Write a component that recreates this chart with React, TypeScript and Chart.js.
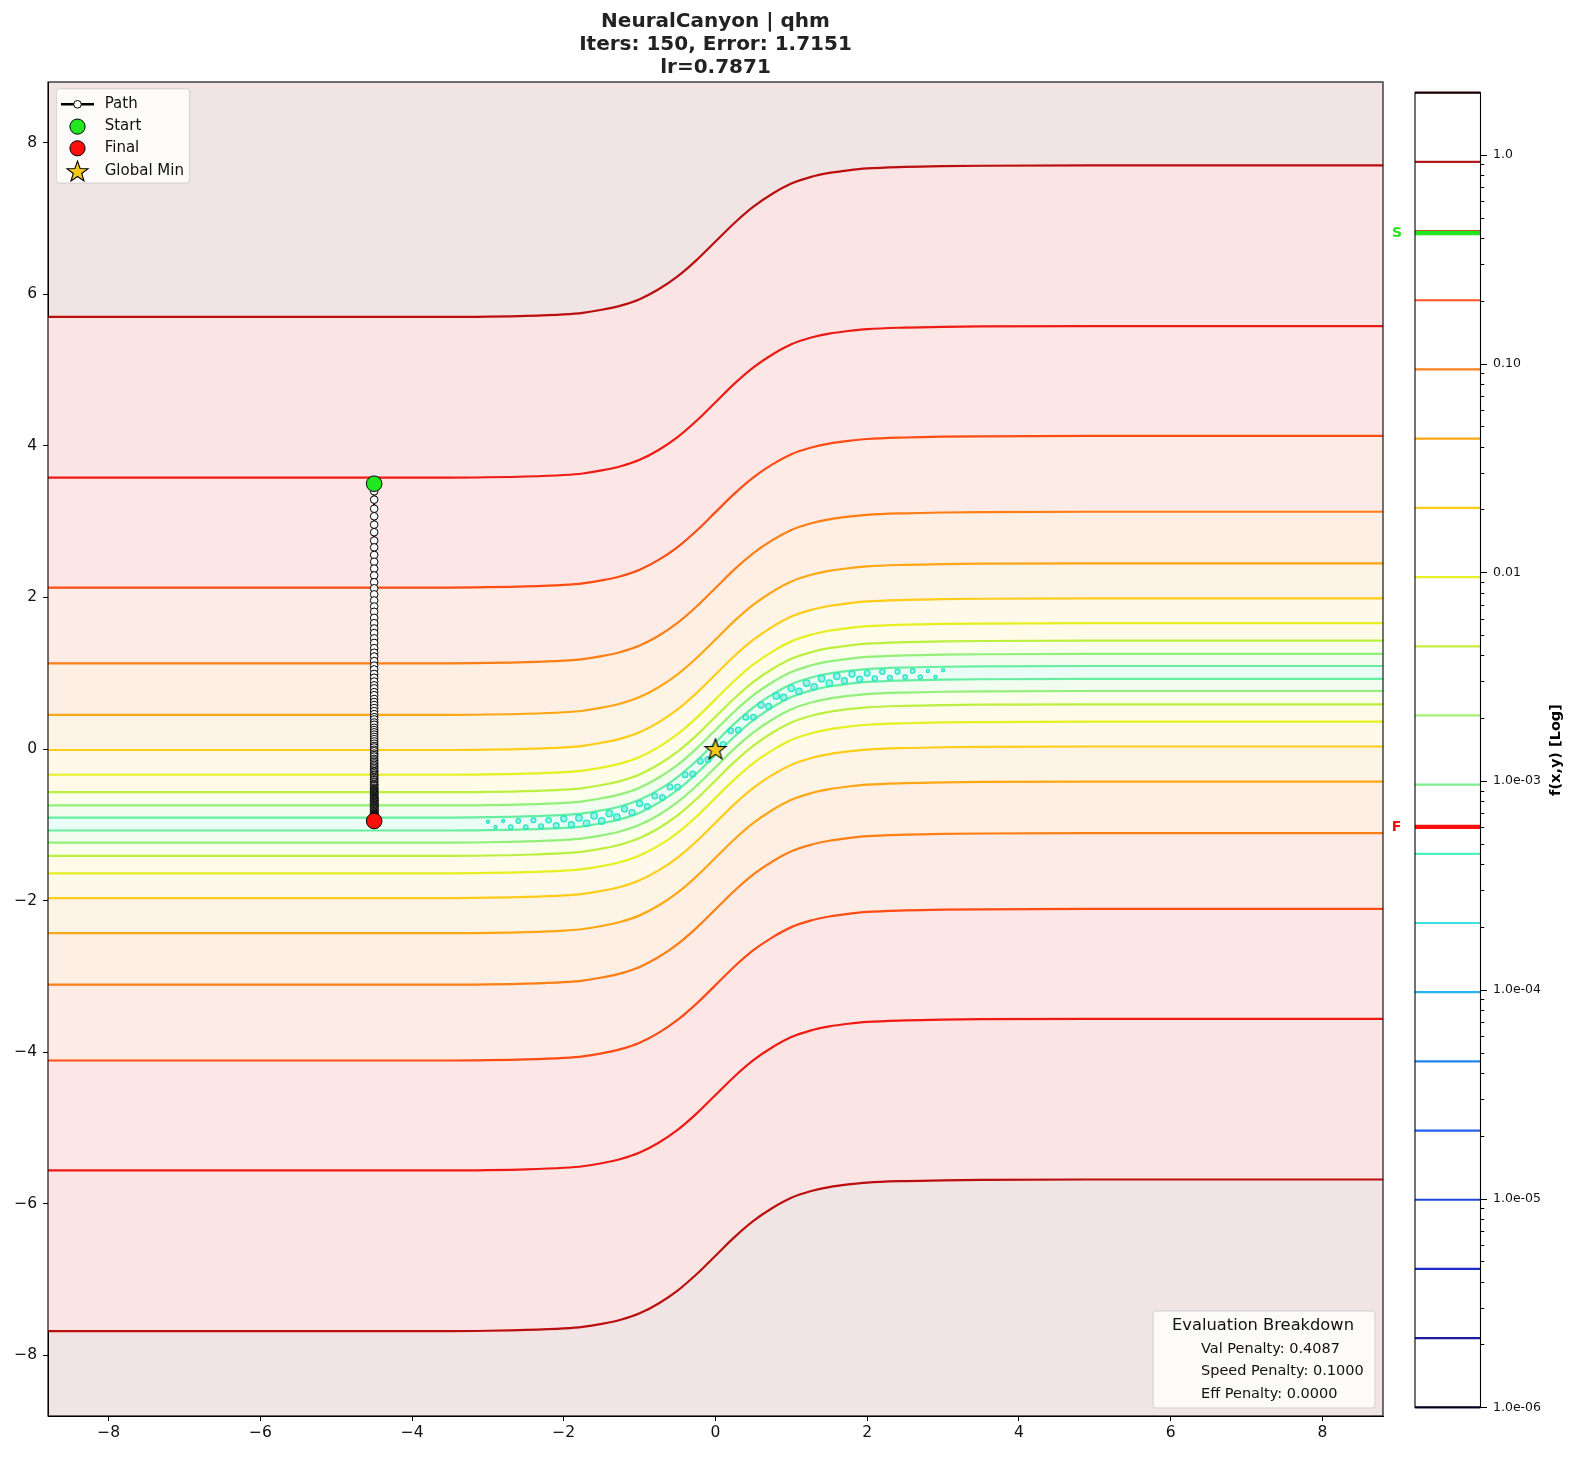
import React, { useEffect, useRef } from 'react';
import { Chart, registerables } from 'chart.js';
Chart.register(...registerables);

// ---------- data ----------
const TITLE_LINES = ['NeuralCanyon | qhm', 'Iters: 150, Error: 1.7151', 'lr=0.7871'];
const X_TICKS = [-8, -6, -4, -2, 0, 2, 4, 6, 8];
const Y_TICKS = [-8, -6, -4, -2, 0, 2, 4, 6, 8];
const AXIS_MIN = -8.8;
const AXIS_MAX = 8.8;

// valley centre line (read at sample x positions)
const valleyX = [-8.8, -5, -3.5, -3, -2.5, -2, -1.75, -1.5, -1.25, -1, -0.75, -0.5, -0.25, 0, 0.25, 0.5, 0.75, 1, 1.25, 1.5, 1.75, 2, 2.5, 3, 3.5, 5, 8.8];
const valleyY = [-0.99, -0.99, -0.99, -0.985, -0.975, -0.955, -0.935, -0.895, -0.84, -0.755, -0.625, -0.455, -0.24, 0.005, 0.25, 0.465, 0.635, 0.77, 0.855, 0.91, 0.945, 0.97, 0.99, 1.0, 1.005, 1.01, 1.01];

// vertical distance of each contour from the valley centre (outer -> inner)
const contourOffsets = [6.69, 4.57, 3.12, 2.12, 1.44, 0.977, 0.65, 0.42, 0.245, 0.085];
const contourColors = ['#bb0e0e', '#ee1a14', '#ff4c14', '#ff7e14', '#ffa614', '#ffcc1a', '#e6f020', '#bcf040', '#92f07a', '#66eea0'];
const outerBandColor = '#f1e4e4';
const bandColors = ['#fae4e4', '#fde7e6', '#fdebe5', '#feefe5', '#fef4e6', '#fef9e8', '#fefce9', '#fafeea', '#f2fdf0', '#eafcf6'];

// small closed contours (islands) along the valley floor
const islandX = [-3.0, -2.9, -2.8, -2.7, -2.6, -2.5, -2.4, -2.3, -2.2, -2.1, -2.0, -1.9, -1.8, -1.7, -1.6, -1.5, -1.4, -1.3, -1.2, -1.1, -1.0, -0.9, -0.8, -0.7, -0.6, -0.5, -0.4, -0.3, -0.2, -0.1, 0.0, 0.1, 0.2, 0.3, 0.4, 0.5, 0.6, 0.7, 0.8, 0.9, 1.0, 1.1, 1.2, 1.3, 1.4, 1.5, 1.6, 1.7, 1.8, 1.9, 2.0, 2.1, 2.2, 2.3, 2.4, 2.5, 2.6, 2.7, 2.8, 2.9, 3.0];
const islandY = [-0.96, -1.03, -0.95, -1.03, -0.95, -1.03, -0.94, -1.02, -0.94, -1.01, -0.92, -1.0, -0.91, -0.98, -0.88, -0.95, -0.85, -0.9, -0.79, -0.84, -0.72, -0.76, -0.62, -0.64, -0.5, -0.5, -0.34, -0.33, -0.16, -0.14, 0.04, 0.06, 0.24, 0.25, 0.42, 0.42, 0.58, 0.56, 0.7, 0.68, 0.8, 0.76, 0.87, 0.82, 0.93, 0.87, 0.96, 0.9, 0.99, 0.92, 1.0, 0.93, 1.02, 0.94, 1.02, 0.95, 1.03, 0.95, 1.03, 0.95, 1.04];
const islandR = [1.5, 1.5, 1.5, 2.2, 2.2, 2.2, 2.4, 2.4, 2.6, 2.8, 3.0, 3.0, 3.2, 3.2, 3.2, 3.2, 3.2, 3.2, 3.0, 3.0, 3.0, 2.8, 2.8, 2.8, 2.8, 2.8, 2.8, 2.8, 2.8, 2.8, 2.8, 2.8, 2.8, 2.8, 2.8, 2.8, 3.0, 3.0, 3.2, 3.2, 3.2, 3.2, 3.2, 3.2, 3.2, 3.2, 3.2, 3.0, 3.0, 3.0, 2.8, 2.6, 2.6, 2.4, 2.4, 2.2, 2.2, 2.0, 1.6, 1.5, 1.5];

// optimiser path (x is constant)
const PATH_X = -4.5;
const pathY = [
  3.50, 3.40, 3.29, 3.17, 3.07, 2.96, 2.86, 2.75, 2.66, 2.56,
  2.47, 2.38, 2.29, 2.20, 2.12, 2.04, 1.96, 1.88, 1.81, 1.73,
  1.66, 1.59, 1.53, 1.46, 1.40, 1.33, 1.27, 1.22, 1.16, 1.10,
  1.05, 0.99, 0.94, 0.89, 0.84, 0.80, 0.75, 0.71, 0.66, 0.62,
  0.58, 0.54, 0.50, 0.46, 0.42, 0.39, 0.35, 0.32, 0.28, 0.25,
  0.22, 0.19, 0.16, 0.13, 0.10, 0.07, 0.04, 0.02, -0.01, -0.03,
  -0.06, -0.08, -0.10, -0.13, -0.15, -0.17, -0.19, -0.21, -0.23, -0.25,
  -0.27, -0.29, -0.30, -0.32, -0.34, -0.35, -0.37, -0.38, -0.40, -0.41,
  -0.43, -0.44, -0.46, -0.47, -0.48, -0.49, -0.51, -0.52, -0.53, -0.54,
  -0.55, -0.56, -0.57, -0.58, -0.59, -0.60, -0.61, -0.62, -0.63, -0.64,
  -0.645, -0.65, -0.66, -0.66, -0.67, -0.68, -0.68, -0.69, -0.70, -0.70,
  -0.71, -0.72, -0.72, -0.73, -0.74, -0.74, -0.75, -0.76, -0.76, -0.77,
  -0.78, -0.78, -0.79, -0.80, -0.80, -0.81, -0.82, -0.82, -0.83, -0.84,
  -0.84, -0.85, -0.86, -0.86, -0.87, -0.88, -0.88, -0.89, -0.89, -0.90,
  -0.90, -0.91, -0.91, -0.92, -0.92, -0.93, -0.93, -0.94, -0.94, -0.95,
  -0.95,
];
const startPoint = { x: -4.5, y: 3.5 };
const finalPoint = { x: -4.5, y: -0.95 };
const globalMin = { x: 0, y: 0 };

const LEGEND_LABELS = ['Path', 'Start', 'Final', 'Global Min'];
const EVAL_TITLE = 'Evaluation Breakdown';
const EVAL_LINES = ['Val Penalty: 0.4087', 'Speed Penalty: 0.1000', 'Eff Penalty: 0.0000'];

// colour bar
const CB_MIN = 1e-6;
const CB_MAX = 1.984;
const cbLevels = [1e-6, 2.145e-6, 4.6e-6, 9.87e-6, 2.117e-5, 4.54e-5, 9.74e-5, 2.089e-4, 4.48e-4, 9.62e-4, 2.063e-3, 4.42e-3, 9.49e-3, 2.036e-2, 4.37e-2, 9.37e-2, 0.201, 0.431, 0.925, 1.984];
const cbColors = ['#121250', '#1a1aa0', '#1c2cc8', '#1e44e0', '#2062ee', '#2084f0', '#28b4f0', '#38e2e0', '#50f0c0', '#80ee90', '#a4f070', '#c6f040', '#e8f028', '#ffcc1e', '#ffa614', '#ff8020', '#ff5222', '#e82a1c', '#b41c1c', '#3a0808'];
const cbTickValues = [1e-6, 1e-5, 1e-4, 1e-3, 0.01, 0.1, 1];
const cbTickLabels = ['1.0e-06', '1.0e-05', '1.0e-04', '1.0e-03', '0.01', '0.10', '1.0'];
const START_VALUE = 0.422;
const FINAL_VALUE = 6.03e-4;
const CB_LABEL = 'f(x,y) [Log]';

const FONT = 'DejaVu Sans';
const START_COLOR = '#22e622';
const FINAL_COLOR = '#ff0d0d';
const STAR_COLOR = '#f5c81c';

function starPath(ctx: CanvasRenderingContext2D, cx: number, cy: number, R: number, r: number) {
  ctx.beginPath();
  for (let k = 0; k < 10; k++) {
    const a = -Math.PI / 2 + (k * Math.PI) / 5;
    const rad = k % 2 === 0 ? R : r;
    const px = cx + rad * Math.cos(a);
    const py = cy + rad * Math.sin(a);
    if (k === 0) ctx.moveTo(px, py);
    else ctx.lineTo(px, py);
  }
  ctx.closePath();
}

function makeStarImage(): HTMLCanvasElement {
  const c = document.createElement('canvas');
  c.width = 26;
  c.height = 26;
  const ctx = c.getContext('2d')!;
  starPath(ctx, 13, 14, 11, 4.4);
  ctx.fillStyle = STAR_COLOR;
  ctx.fill();
  ctx.lineWidth = 1.1;
  ctx.strokeStyle = '#000';
  ctx.lineJoin = 'miter';
  ctx.stroke();
  return c;
}

const fmtTick = (v: number) => (v < 0 ? '\u2212' + Math.abs(v) : String(v));

export default function App() {
  const mainRef = useRef<HTMLCanvasElement>(null);
  const cbRef = useRef<HTMLCanvasElement>(null);

  useEffect(() => {
    Chart.defaults.font.family = FONT;
    const starImg = makeStarImage();

    // ----- contour lines + bands -----
    const lineOffsets = [...contourOffsets, ...contourOffsets.slice().reverse().map((d) => -d)];
    const contourDatasets: any[] = lineOffsets.map((off, i) => {
      const colorIdx = i < 10 ? i : 19 - i;
      const bandIdx = i < 10 ? i : 18 - i;
      return {
        type: 'line',
        data: valleyX.map((x, j) => ({ x, y: valleyY[j] + off })),
        borderColor: contourColors[colorIdx],
        borderWidth: 2.2,
        pointRadius: 0,
        cubicInterpolationMode: 'monotone',
        fill: i < 19 ? '+1' : false,
        backgroundColor: i < 19 ? bandColors[bandIdx] : 'rgba(0,0,0,0)',
        order: 10,
      };
    });

    const islandDataset = {
      type: 'line',
      data: islandX.map((x, i) => ({ x, y: islandY[i] })),
      showLine: false,
      pointRadius: islandR,
      pointBackgroundColor: 'rgba(60,232,205,0.45)',
      pointBorderColor: '#30e4c8',
      pointBorderWidth: 1.4,
      fill: false,
      order: 6,
    };

    const pathDataset = {
      type: 'line',
      data: pathY.map((y) => ({ x: PATH_X, y })),
      borderColor: '#000',
      borderWidth: 2.2,
      pointRadius: 3.8,
      pointBackgroundColor: '#fff',
      pointBorderColor: '#000',
      pointBorderWidth: 1,
      tension: 0,
      fill: false,
      order: 4,
    };

    const startDataset = {
      type: 'line',
      data: [startPoint],
      showLine: false,
      pointRadius: 7.8,
      pointBackgroundColor: START_COLOR,
      pointBorderColor: '#000',
      pointBorderWidth: 1,
      fill: false,
      order: 3,
    };
    const finalDataset = {
      type: 'line',
      data: [finalPoint],
      showLine: false,
      pointRadius: 7.8,
      pointBackgroundColor: FINAL_COLOR,
      pointBorderColor: '#000',
      pointBorderWidth: 1,
      fill: false,
      order: 2,
    };
    const starDataset = {
      type: 'line',
      data: [globalMin],
      showLine: false,
      pointStyle: starImg,
      pointRadius: 11,
      fill: false,
      order: 1,
    };

    const decorPlugin = {
      id: 'decor',
      beforeDraw(chart: any) {
        const { ctx, chartArea: a } = chart;
        ctx.save();
        ctx.fillStyle = outerBandColor;
        ctx.fillRect(a.left, a.top, a.right - a.left, a.bottom - a.top);
        ctx.restore();
      },
      afterDraw(chart: any) {
        const { ctx, chartArea: a } = chart;
        ctx.save();
        // frame
        ctx.strokeStyle = '#000';
        ctx.lineWidth = 1.1;
        ctx.strokeRect(a.left, a.top, a.right - a.left, a.bottom - a.top);

        // title
        ctx.fillStyle = '#222';
        ctx.font = `bold 20px "${FONT}"`;
        ctx.textAlign = 'center';
        ctx.textBaseline = 'middle';
        const cx = (a.left + a.right) / 2;
        TITLE_LINES.forEach((t, i) => ctx.fillText(t, cx, 22 + i * 22.7));

        // legend
        const lx = a.left + 8.3;
        const ly = a.top + 6.8;
        ctx.beginPath();
        (ctx as any).roundRect(lx, ly, 133.4, 94.3, 3);
        ctx.fillStyle = 'rgba(255,255,255,0.82)';
        ctx.fill();
        ctx.strokeStyle = '#cfcfcf';
        ctx.lineWidth = 1;
        ctx.stroke();
        const symX = lx + 21.2;
        const rows = [ly + 15.5, ly + 37.8, ly + 59.5, ly + 82.3];
        // path symbol
        ctx.beginPath();
        ctx.moveTo(lx + 4.7, rows[0]);
        ctx.lineTo(lx + 37.7, rows[0]);
        ctx.strokeStyle = '#000';
        ctx.lineWidth = 2.6;
        ctx.stroke();
        ctx.beginPath();
        ctx.arc(symX, rows[0], 3.8, 0, Math.PI * 2);
        ctx.fillStyle = '#fff';
        ctx.fill();
        ctx.lineWidth = 1;
        ctx.stroke();
        // start / final
        [[rows[1], START_COLOR], [rows[2], FINAL_COLOR]].forEach(([yy, col]) => {
          ctx.beginPath();
          ctx.arc(symX, yy as number, 7.6, 0, Math.PI * 2);
          ctx.fillStyle = col as string;
          ctx.fill();
          ctx.strokeStyle = '#000';
          ctx.lineWidth = 1;
          ctx.stroke();
        });
        // star
        starPath(ctx, symX, rows[3] + 1, 11, 4.4);
        ctx.fillStyle = STAR_COLOR;
        ctx.fill();
        ctx.strokeStyle = '#000';
        ctx.lineWidth = 1.1;
        ctx.stroke();
        ctx.fillStyle = '#111';
        ctx.font = `15px "${FONT}"`;
        ctx.textAlign = 'left';
        ctx.textBaseline = 'middle';
        LEGEND_LABELS.forEach((t, i) => ctx.fillText(t, lx + 48.4, rows[i]));

        // evaluation box
        const ex = 1153, ey = 1311, ew = 222, eh = 97;
        ctx.beginPath();
        (ctx as any).roundRect(ex, ey, ew, eh, 3);
        ctx.fillStyle = 'rgba(255,255,255,0.82)';
        ctx.fill();
        ctx.strokeStyle = '#cfcfcf';
        ctx.lineWidth = 1;
        ctx.stroke();
        ctx.fillStyle = '#111';
        ctx.textAlign = 'center';
        ctx.font = `16.3px "${FONT}"`;
        ctx.fillText(EVAL_TITLE, ex + 110, ey + 15);
        ctx.textAlign = 'left';
        ctx.font = `14.5px "${FONT}"`;
        EVAL_LINES.forEach((t, i) => ctx.fillText(t, 1201, 1349 + i * 22.5));
        ctx.restore();
      },
    };

    const axisCommon = (ticksArr: number[]) => ({
      type: 'linear' as const,
      min: AXIS_MIN,
      max: AXIS_MAX,
      afterBuildTicks: (s: any) => {
        s.ticks = ticksArr.map((v) => ({ value: v }));
      },
      grid: { drawOnChartArea: false, drawTicks: true, tickLength: 5, color: '#000', lineWidth: 1 },
      border: { display: true, color: '#000', width: 1 },
      ticks: {
        font: { family: FONT, size: 15.5 },
        color: '#111',
        autoSkip: false,
        maxRotation: 0,
        callback: (v: any) => fmtTick(Number(v)),
      },
    });

    const xScale: any = axisCommon(X_TICKS);
    xScale.afterFit = (s: any) => {
      s.height = 42;
    };
    xScale.ticks.padding = 3;
    const yScale: any = axisCommon(Y_TICKS);
    yScale.afterFit = (s: any) => {
      s.width = 48;
    };
    yScale.ticks.padding = 6;

    const main = new Chart(mainRef.current!, {
      type: 'line',
      data: {
        datasets: [starDataset, finalDataset, startDataset, pathDataset, islandDataset, ...contourDatasets] as any,
      },
      options: {
        responsive: false,
        animation: false,
        events: [],
        layout: { padding: { left: 0, top: 82, right: 194, bottom: 0 } },
        scales: { x: xScale, y: yScale },
        plugins: {
          legend: { display: false },
          tooltip: { enabled: false },
          title: { display: false },
          filler: { drawTime: 'beforeDatasetsDraw', propagate: false },
        } as any,
      },
      plugins: [decorPlugin],
    });

    // ----- colour bar -----
    const cbDatasets: any[] = cbLevels.map((lv, i) => ({
      data: [
        { x: 0, y: lv },
        { x: 1, y: lv },
      ],
      borderColor: cbColors[i],
      borderWidth: 2.2,
      pointRadius: 0,
      fill: false,
      clip: false,
      order: 5,
    }));
    cbDatasets.push({
      data: [
        { x: 0, y: START_VALUE },
        { x: 1, y: START_VALUE },
      ],
      borderColor: START_COLOR,
      borderWidth: 4.5,
      pointRadius: 0,
      fill: false,
      clip: false,
      order: 1,
    });
    cbDatasets.push({
      data: [
        { x: 0, y: FINAL_VALUE },
        { x: 1, y: FINAL_VALUE },
      ],
      borderColor: FINAL_COLOR,
      borderWidth: 4.2,
      pointRadius: 0,
      fill: false,
      clip: false,
      order: 1,
    });

    const cbAllTicks: number[] = [];
    for (let e = -6; e <= 0; e++) {
      for (let m = 1; m <= 9; m++) {
        const v = m * Math.pow(10, e);
        if (v <= CB_MAX * 1.0001) cbAllTicks.push(v);
      }
    }
    const isMajor = (v: number) => cbTickValues.some((t) => Math.abs(v - t) / t < 1e-6);

    const cbPlugin = {
      id: 'cbDecor',
      afterDraw(chart: any) {
        const { ctx, chartArea: a } = chart;
        const ys = chart.scales.y;
        ctx.save();
        ctx.strokeStyle = '#000';
        ctx.lineWidth = 1.1;
        ctx.strokeRect(a.left, a.top, a.right - a.left, a.bottom - a.top);
        ctx.lineWidth = 1;
        cbAllTicks.forEach((v) => {
          const py = Math.round(ys.getPixelForValue(v)) + 0.5;
          const len = isMajor(v) ? 6.5 : 3.8;
          ctx.beginPath();
          ctx.moveTo(a.right, py);
          ctx.lineTo(a.right + len, py);
          ctx.stroke();
        });
        // S / F markers
        ctx.font = `bold 14px "${FONT}"`;
        ctx.textAlign = 'center';
        ctx.textBaseline = 'middle';
        ctx.fillStyle = START_COLOR;
        ctx.fillText('S', 27, ys.getPixelForValue(START_VALUE));
        ctx.fillStyle = FINAL_COLOR;
        ctx.fillText('F', 26.5, ys.getPixelForValue(FINAL_VALUE));
        // axis label
        ctx.translate(186, (a.top + a.bottom) / 2);
        ctx.rotate(-Math.PI / 2);
        ctx.fillStyle = '#000';
        ctx.font = `bold 14.5px "${FONT}"`;
        ctx.fillText(CB_LABEL, 0, 0);
        ctx.restore();
      },
    };

    const cb = new Chart(cbRef.current!, {
      type: 'line',
      data: { datasets: cbDatasets },
      options: {
        responsive: false,
        animation: false,
        events: [],
        layout: { padding: { left: 45, top: 92.7, right: 0, bottom: 50.7 } },
        scales: {
          x: { type: 'linear', min: 0, max: 1, display: false },
          y: {
            type: 'logarithmic',
            position: 'right',
            min: CB_MIN,
            max: CB_MAX,
            afterBuildTicks: (s: any) => {
              s.ticks = cbAllTicks.map((v) => ({ value: v, major: isMajor(v) }));
            },
            afterFit: (s: any) => {
              s.width = 96.5;
            },
            grid: { display: false, drawTicks: false },
            border: { display: false },
            ticks: {
              autoSkip: false,
              padding: 12.5,
              color: '#111',
              font: { family: FONT, size: 12.5 },
              callback: (v: any) => {
                const idx = cbTickValues.findIndex((t) => Math.abs(Number(v) - t) / t < 1e-6);
                return idx >= 0 ? cbTickLabels[idx] : '';
              },
            },
          },
        },
        plugins: {
          legend: { display: false },
          tooltip: { enabled: false },
        },
      } as any,
      plugins: [cbPlugin],
    });

    return () => {
      main.destroy();
      cb.destroy();
    };
  }, []);

  return (
    <div style={{ position: 'absolute', left: 0, top: 0, width: 1577, height: 1458, background: '#fff' }}>
      <canvas ref={mainRef} width={1577} height={1458} style={{ position: 'absolute', left: 0, top: 0 }} />
      <canvas ref={cbRef} width={207} height={1458} style={{ position: 'absolute', left: 1370, top: 0 }} />
    </div>
  );
}
